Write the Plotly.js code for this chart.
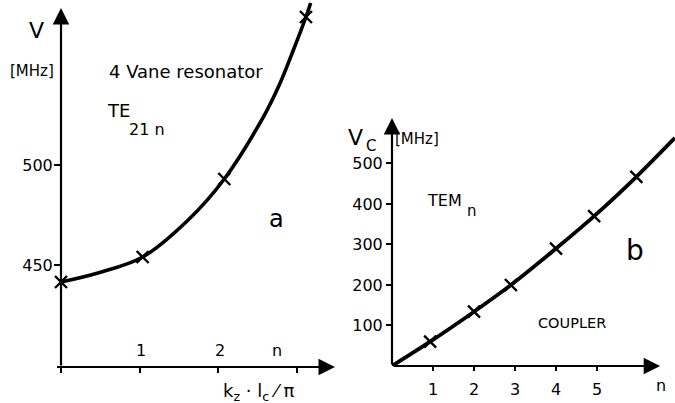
<!DOCTYPE html>
<html>
<head>
<meta charset="utf-8">
<script src="https://cdn.plot.ly/plotly-3.0.1.min.js"></script>
<style>html,body{margin:0;padding:0;background:#fff;}#chart{width:675px;height:403px;}</style>
</head>
<body>
<div id="chart"></div>
<script>
// ---- Panel a: 4 Vane resonator, TE21n ----
const vaneCurveX = [0, 0.47, 1.04, 1.62, 2.08, 2.58, 2.79, 2.96, 3.12, 3.18];
const vaneCurveY = [441.5, 446, 454, 472.5, 493, 524.2, 540.9, 557.5, 574, 581];
const vaneMarkX = [0, 1.04, 2.08, 3.12];
const vaneMarkY = [441.5, 454, 493, 574];
const vaneYTicks = [450, 500];
const vaneXTicks = [0, 1, 2, 3];
const vaneXLabelPos = [1.02, 2.03, 2.75];
const vaneXLabels = ['1', '2', 'n'];

// ---- Panel b: Coupler, TEMn ----
const coupCurveX = [0, 0.93, 2.0, 2.9, 4.0, 4.93, 5.96, 6.9];
const coupCurveY = [0, 60, 134, 200, 290, 370, 467, 563];
const coupMarkX = [0.93, 2.0, 2.9, 4.0, 4.93, 5.96];
const coupMarkY = [60, 134, 200, 290, 370, 467];
const coupYTicks = [100, 200, 300, 400, 500];
const coupXTicks = [1, 2, 3, 4, 5];
const coupXTickText = ['1', '2', '3', '4', '5'];

const FONT = 'DejaVu Sans, sans-serif';
const W = 675, H = 403;
const px = v => v / W;
const py = v => 1 - v / H;

const traces = [
  {x: vaneCurveX, y: vaneCurveY, xaxis: 'x', yaxis: 'y', mode: 'lines',
   line: {color: '#000', width: 3.6, shape: 'spline', smoothing: 1.0}, hoverinfo: 'skip'},
  {x: vaneMarkX, y: vaneMarkY, xaxis: 'x', yaxis: 'y', mode: 'markers', cliponaxis: false,
   marker: {symbol: 'x-thin', size: 12, color: '#000', line: {color: '#000', width: 2.4}}},
  {x: coupCurveX, y: coupCurveY, xaxis: 'x2', yaxis: 'y2', mode: 'lines',
   line: {color: '#000', width: 3.8, shape: 'spline', smoothing: 0.8}, hoverinfo: 'skip'},
  {x: coupMarkX, y: coupMarkY, xaxis: 'x2', yaxis: 'y2', mode: 'markers', cliponaxis: false,
   marker: {symbol: 'x-thin', size: 12, color: '#000', line: {color: '#000', width: 2.4}}}
];

function arrow(xr, yr, x0, y0, x1, y1) {
  return {xref: xr, yref: yr, axref: xr, ayref: yr, x: x1, y: y1, ax: x0, ay: y0,
          text: '', showarrow: true, arrowhead: 2, arrowsize: 1.5, arrowwidth: 2.2, arrowcolor: '#000',
          standoff: 0, startstandoff: 0};
}
function label(text, x, y, size, extra) {
  return Object.assign({xref: 'paper', yref: 'paper', x: px(x), y: py(y), text: text, showarrow: false,
    xanchor: 'center', yanchor: 'middle', font: {family: FONT, size: size, color: '#000'}}, extra || {});
}

const annotations = [
  arrow('x', 'y', 0, 399, 0, 578.5),
  arrow('x', 'y', -0.07, 399, 3.49, 399),
  arrow('x2', 'y2', 0, 0, 6.54, 0),
  arrow('x2', 'y2', 0, 0, 0, 612),
  label('V', 36, 31, 22),
  label('[MHz]', 32, 71, 15),
  label('4 Vane resonator', 186, 71, 18),
  label('TE', 118, 110, 18),
  label('21 n', 147, 129, 16),
  label('a', 276, 219, 24),
  label('k<sub>z</sub> · l<sub>c</sub> ⁄ π', 259, 392, 18),
  label('V', 355, 137, 22),
  label('C', 371, 146, 15),
  label('[MHz]', 417, 139, 15),
  label('TEM', 444, 201, 16),
  label('n', 472, 211, 15),
  label('b', 635, 250, 28),
  label('COUPLER', 572, 323, 14.5),
  label('n', 661, 385, 16)
];
vaneXLabelPos.forEach((p, i) => {
  annotations.push({xref: 'x', yref: 'y', x: p, y: 399, yshift: 17, text: vaneXLabels[i], showarrow: false,
    xanchor: 'center', yanchor: 'middle', font: {family: FONT, size: 16, color: '#000'}});
});

const layout = {
  width: W, height: H,
  margin: {l: 0, r: 0, t: 0, b: 0},
  paper_bgcolor: '#fff', plot_bgcolor: 'rgba(0,0,0,0)',
  showlegend: false,
  font: {family: FONT, color: '#000'},
  xaxis: {domain: [px(61), px(335)], range: [0, 3.49], anchor: 'y',
    showline: false, showgrid: false, zeroline: false,
    tickvals: vaneXTicks, ticks: 'outside', ticklen: 5, tickwidth: 2, tickcolor: '#000',
    showticklabels: false, fixedrange: true},
  yaxis: {domain: [36 / H, 1], range: [399, 582.5], anchor: 'x',
    showline: false, showgrid: false, zeroline: false,
    tickvals: vaneYTicks, ticks: 'outside', ticklen: 6, tickwidth: 2, tickcolor: '#000',
    tickfont: {family: FONT, size: 16, color: '#000'}, ticklabelstandoff: -2, fixedrange: true},
  xaxis2: {domain: [px(392), 1], range: [0, 6.902], anchor: 'y2',
    showline: false, showgrid: false, zeroline: false,
    tickvals: coupXTicks, ticktext: coupXTickText, ticks: 'outside', ticklen: 4, tickwidth: 2, tickcolor: '#000',
    tickfont: {family: FONT, size: 16, color: '#000'}, ticklabelstandoff: 5, fixedrange: true},
  yaxis2: {domain: [37 / H, (H - 118.1) / H], range: [0, 612], anchor: 'x2',
    showline: false, showgrid: false, zeroline: false,
    tickvals: coupYTicks, ticks: 'outside', ticklen: 5, tickwidth: 2, tickcolor: '#000',
    tickfont: {family: FONT, size: 16, color: '#000'}, fixedrange: true},
  annotations: annotations
};

Plotly.newPlot('chart', traces, layout, {displayModeBar: false, staticPlot: true});
</script>
</body>
</html>
